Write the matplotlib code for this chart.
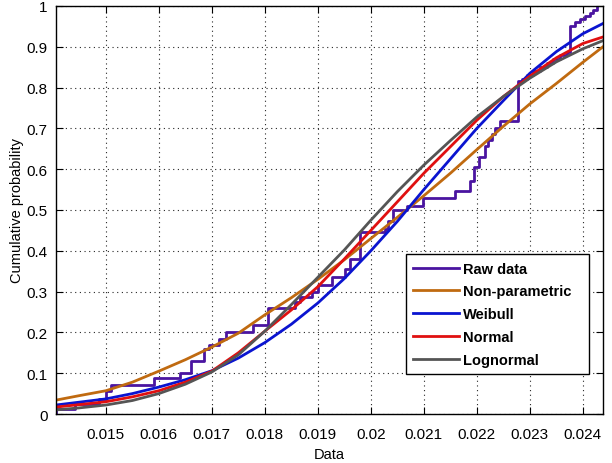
import numpy as np
import matplotlib
matplotlib.use("Agg")
import matplotlib.pyplot as plt

plt.rcParams['font.family'] = ['Liberation Sans', 'DejaVu Sans']

# Empirical CDF (raw data) jump positions and levels after each jump
raw_x = [0.014057, 0.014415, 0.014868, 0.015000, 0.015094, 0.015906, 0.016396,
         0.016604, 0.016849, 0.016943, 0.017132, 0.017264, 0.017774, 0.018057,
         0.018566, 0.018660, 0.018887, 0.019000, 0.019264, 0.019509, 0.019604,
         0.019792, 0.020264, 0.020321, 0.020415, 0.020679, 0.020981, 0.021585,
         0.021868, 0.021943, 0.022038, 0.022151, 0.022208, 0.022283, 0.022340,
         0.022434, 0.022774, 0.022849, 0.022943, 0.023057, 0.023189, 0.023321,
         0.023434, 0.023566, 0.023698, 0.023755, 0.023849, 0.023943, 0.024038,
         0.024132, 0.024189, 0.024264]
raw_y = [0.012, 0.025, 0.037, 0.057, 0.071, 0.088, 0.100, 0.130, 0.160, 0.170,
         0.184, 0.200, 0.218, 0.260, 0.274, 0.287, 0.300, 0.316, 0.336, 0.355,
         0.380, 0.446, 0.453, 0.473, 0.500, 0.510, 0.530, 0.547, 0.571, 0.605,
         0.630, 0.657, 0.672, 0.686, 0.700, 0.718, 0.816, 0.820, 0.830, 0.840,
         0.850, 0.860, 0.870, 0.880, 0.887, 0.950, 0.960, 0.967, 0.975, 0.983,
         0.990, 1.000]

# Fitted CDF curves, values read at these x positions
fit_x = [0.01406, 0.0145, 0.015, 0.0155, 0.016, 0.0165, 0.017, 0.0175, 0.018,
         0.0185, 0.019, 0.0195, 0.020, 0.0205, 0.021, 0.0215, 0.022, 0.0225,
         0.023, 0.0235, 0.024, 0.02438]
nonparam_y = [0.034, 0.045, 0.057, 0.078, 0.105, 0.133, 0.164, 0.198, 0.243,
              0.285, 0.330, 0.378, 0.430, 0.482, 0.535, 0.590, 0.648, 0.705,
              0.760, 0.810, 0.862, 0.900]
weibull_y = [0.022, 0.029, 0.037, 0.050, 0.066, 0.084, 0.106, 0.137, 0.175,
             0.220, 0.272, 0.332, 0.400, 0.472, 0.550, 0.625, 0.700, 0.768,
             0.835, 0.888, 0.932, 0.957]
normal_y = [0.017, 0.023, 0.030, 0.042, 0.057, 0.078, 0.105, 0.150, 0.203,
            0.255, 0.312, 0.380, 0.450, 0.520, 0.590, 0.655, 0.720, 0.778,
            0.828, 0.873, 0.908, 0.924]
lognormal_y = [0.010, 0.015, 0.022, 0.033, 0.050, 0.073, 0.103, 0.145, 0.203,
               0.268, 0.335, 0.402, 0.475, 0.545, 0.610, 0.670, 0.728, 0.778,
               0.823, 0.863, 0.895, 0.915]

labels = ["Raw data", "Non-parametric", "Weibull", "Normal", "Lognormal"]
colors = ["#4a14a0", "#c06a10", "#0a14d0", "#e01010", "#555555"]

xticks = [0.015, 0.016, 0.017, 0.018, 0.019, 0.020, 0.021, 0.022, 0.023, 0.024]
xticklabels = ["0.015", "0.016", "0.017", "0.018", "0.019", "0.02", "0.021",
               "0.022", "0.023", "0.024"]
yticks = [0, 0.1, 0.2, 0.3, 0.4, 0.5, 0.6, 0.7, 0.8, 0.9, 1.0]
yticklabels = ["0", "0.1", "0.2", "0.3", "0.4", "0.5", "0.6", "0.7", "0.8", "0.9", "1"]

fig = plt.figure(figsize=(6.12, 4.64), dpi=100)
ax = fig.add_axes([0.0915, 0.1056, 0.8938, 0.8794])

sx = np.concatenate([[raw_x[0]], raw_x])
sy = np.concatenate([[0.0], raw_y])
ax.step(sx, sy, where='post', color=colors[0], lw=2.0, label=labels[0])
for ys, c, lab in zip([nonparam_y, weibull_y, normal_y, lognormal_y], colors[1:], labels[1:]):
    ax.plot(fit_x, ys, color=c, lw=2.0, label=lab)

ax.set_xlim(0.01406, 0.02438)
ax.set_ylim(0, 1)
ax.set_xticks(xticks)
ax.set_xticklabels(xticklabels)
ax.set_yticks(yticks)
ax.set_yticklabels(yticklabels)
ax.tick_params(direction='in', top=True, right=True, length=5, width=0.8,
               labelsize=11, colors='black')
ax.tick_params(axis='x', pad=9)
ax.tick_params(axis='y', pad=6)
ax.grid(True, color='0.15', linestyle=(0, (1, 3.2)), lw=0.8)
for s in ax.spines.values():
    s.set_linewidth(1.0)
    s.set_color('black')

ax.set_xlabel("Data", fontsize=10.5, labelpad=5)
ax.set_ylabel("Cumulative probability", fontsize=10.5, labelpad=2)

leg = ax.legend(loc='lower left', bbox_to_anchor=(0.640, 0.098, 0.334, 0.299),
                mode='expand', borderaxespad=0.0, fancybox=False, frameon=True,
                framealpha=1, edgecolor='black', handlelength=3.1,
                handletextpad=0.3, borderpad=0.5, labelspacing=0.6,
                prop={'weight': 'bold', 'size': 10.5})
leg.get_frame().set_linewidth(1.0)

fig.savefig("out.png", dpi=100)
